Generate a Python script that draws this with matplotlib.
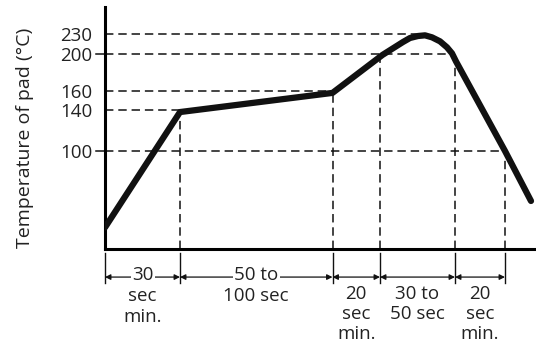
import numpy as np
import matplotlib
matplotlib.use("Agg")
import matplotlib.pyplot as plt

plt.rcParams['font.family'] = ['Open Sans', 'DejaVu Sans']

# reflow profile (time in s, pad temperature in degC)
profile_t = [0, 30, 91, 111, 119.2, 122, 125.2, 128, 130.8, 134, 136.8, 138.8, 140.4, 160, 170.4]
profile_T = [22, 138, 158, 199, 218, 224, 227, 228, 225, 219, 210, 201, 192, 100, 49]

# labelled temperature levels and the time where each dashed level stops
ref_temps = [230, 200, 160, 140, 100]
ref_ends = [126, 140, 91, 30, 160]
ticked = [200, 100]

# phase boundaries (s) and the temperature where each boundary meets the curve
edges = [0, 30, 91, 110, 140, 160]
edge_tops = [138, 158, 200, 200, 100]

seg_labels = [["30", "sec", "min."],
              ["50 to", "100 sec"],
              ["20", "sec", "min."],
              ["30 to", "50 sec"],
              ["20", "sec", "min."]]
on_arrow = [True, True, False, False, False]

# the temperature axis of the sketch is not linear
axis_T = [0, 100, 140, 160, 200, 230, 270]
axis_h = [0, 98, 139, 158, 195, 215, 242]


def fwd(v):
    return np.interp(v, axis_T, axis_h)


def inv(v):
    return np.interp(v, axis_h, axis_T)


fig = plt.figure(figsize=(5.36, 3.44), dpi=100)
ax = fig.add_axes([105 / 536, 95 / 344, 431 / 536, 242 / 344])
ax.set_yscale('function', functions=(fwd, inv))
ax.set_xlim(0, 172.4)
ax.set_ylim(0, 270)

for s in ['top', 'right']:
    ax.spines[s].set_visible(False)
for s in ['left', 'bottom']:
    ax.spines[s].set_linewidth(2.2)
    ax.spines[s].set_capstyle('projecting')

ax.set_xticks([])
ax.set_yticks(ref_temps)
ax.set_yticklabels([str(v) for v in ref_temps], fontsize=13.5, color='#222222')
ax.tick_params(axis='y', length=0, pad=9)

dash = (0, (5.5, 3.2))
for T, t_end in zip(ref_temps, ref_ends):
    ax.plot([0, t_end], [T, T], color='#111111', lw=1.1, linestyle=dash)
for T in ticked:
    ax.plot([-0.02, 0], [T, T], color='#111111', lw=1.1,
            transform=ax.get_yaxis_transform(), clip_on=False)

for t, top in zip(edges[1:], edge_tops):
    ax.plot([t, t], [0, top], color='#111111', lw=1.1, linestyle=dash)

xt = ax.get_xaxis_transform()
for t in edges:
    ax.plot([t, t], [-0.017, -0.14], color='#111111', lw=1.0,
            transform=xt, clip_on=False)

ax.plot(profile_t, profile_T, color='#111111', lw=4.5,
        solid_joinstyle='round', solid_capstyle='round', zorder=5)

arrow_y = -0.116
rows_on = [-0.107, -0.194, -0.281]
rows_off = [-0.186, -0.269, -0.351]
for i, lines in enumerate(seg_labels):
    a, b = edges[i], edges[i + 1]
    ax.annotate('', xy=(a, arrow_y), xytext=(b, arrow_y), xycoords=xt,
                textcoords=xt, annotation_clip=False,
                arrowprops=dict(arrowstyle='<|-|>', color='#111111', lw=0.9,
                                mutation_scale=8, shrinkA=0, shrinkB=0))
    rows = rows_on if on_arrow[i] else rows_off
    for j, txt in enumerate(lines):
        bbox = None
        if on_arrow[i] and j == 0:
            bbox = dict(facecolor='white', edgecolor='none', pad=1.0)
        ax.text((a + b) / 2, rows[j], txt, transform=xt, ha='center',
                va='center', fontsize=13.5, color='#222222', bbox=bbox,
                clip_on=False)

fig.text(25 / 536, 1 - 138 / 344, 'Temperature of pad (°C)', rotation=90,
         ha='center', va='center', fontsize=14, color='#222222')

fig.savefig('out.png', dpi=100)
